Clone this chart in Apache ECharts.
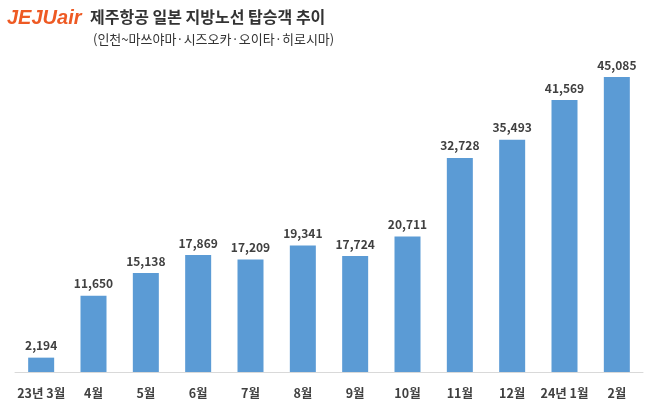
<!DOCTYPE html>
<html>
<head>
<meta charset="utf-8">
<script src="https://cdn.jsdelivr.net/npm/echarts@6/dist/echarts.min.js"></script>
<style>
  html, body { margin: 0; padding: 0; background: #fff; }
  #chart { width: 645px; height: 407px; }
</style>
</head>
<body>
<div id="chart"></div>
<script>
const months = ["23년 3월", "4월", "5월", "6월", "7월", "8월", "9월", "10월", "11월", "12월", "24년 1월", "2월"];
const passengers = [2194, 11650, 15138, 17869, 17209, 19341, 17724, 20711, 32728, 35493, 41569, 45085];

const font = "'Noto Sans CJK KR', 'Noto Sans', sans-serif";
const myChart = echarts.init(document.getElementById("chart"));

const option = {
  backgroundColor: "#fff",
  title: [
    {
      text: "{logo|JEJUair}",
      left: 2,
      top: 3,
      textStyle: {
        rich: {
          logo: {
            color: "#ee5a24",
            fontFamily: "'Liberation Sans', Arial, sans-serif",
            fontStyle: "italic",
            fontWeight: "bold",
            fontSize: 20,
          },
        },
      },
    },
    {
      text: "제주항공 일본 지방노선 탑승객 추이",
      left: 85,
      top: 4,
      textStyle: { fontFamily: font, fontSize: 16, fontWeight: "bold", color: "#333" },
    },
    {
      text: "(인천~마쓰야마·시즈오카·오이타·히로시마)",
      left: 88,
      top: 28,
      textStyle: { fontFamily: font, fontSize: 13, fontWeight: "normal", color: "#333" },
    },
  ],
  grid: { left: 15, right: 2, top: 43, bottom: 35 },
  xAxis: {
    type: "category",
    data: months,
    axisLine: { lineStyle: { color: "#d9d9d9" } },
    axisTick: { show: false },
    axisLabel: {
      interval: 0,
      margin: 15,
      fontFamily: font,
      fontSize: 12.5,
      fontWeight: "bold",
      color: "#404040",
    },
  },
  yAxis: {
    type: "value",
    min: 0,
    max: 50300,
    show: false,
    splitLine: { show: false },
  },
  series: [
    {
      type: "bar",
      data: passengers,
      barWidth: 26,
      itemStyle: { color: "#5b9bd5" },
      label: {
        show: true,
        position: "top",
        distance: 6,
        fontFamily: font,
        fontSize: 12,
        fontWeight: "bold",
        color: "#404040",
        formatter: (p) => p.value.toLocaleString("en-US"),
      },
    },
  ],
};

myChart.setOption(option);
</script>
</body>
</html>
